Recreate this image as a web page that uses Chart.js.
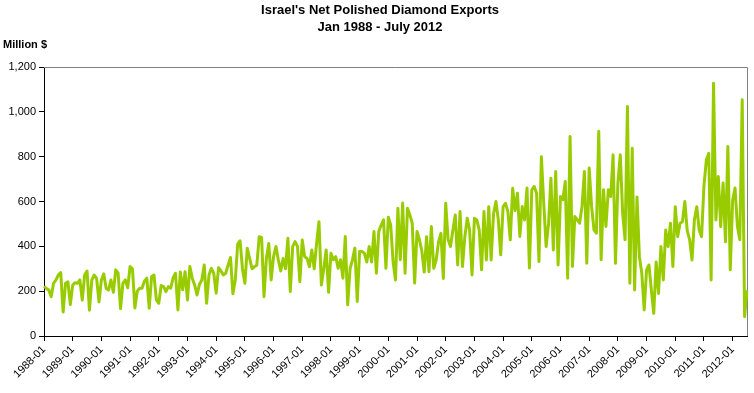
<!DOCTYPE html>
<html>
<head>
<meta charset="utf-8">
<script src="https://cdn.jsdelivr.net/npm/chart.js"></script>
<style>
  html, body { margin: 0; padding: 0; background: #fff; }
  #wrap { width: 754px; height: 393px; }
</style>
</head>
<body>
<div id="wrap"><canvas id="diamondChart" width="754" height="393"></canvas></div>
<script>
const titleLines = ["Israel's Net Polished Diamond Exports", "Jan 1988 - July 2012"];
const unitLabel = "Million $";
const years = [1988, 1989, 1990, 1991, 1992, 1993, 1994, 1995, 1996, 1997, 1998, 1999,
  2000, 2001, 2002, 2003, 2004, 2005, 2006, 2007, 2008, 2009, 2010, 2011, 2012];
const months = ["01", "02", "03", "04", "05", "06", "07", "08", "09", "10", "11", "12"];
const yTickValues = [0, 200, 400, 600, 800, 1000, 1200];

// million $, monthly, Jan 1988 - Jul 2012
const netExports = [
  222, 212, 205, 175, 235, 250, 272, 283, 107, 235, 242, 140, // 1988
  227, 238, 235, 250, 160, 272, 290, 115, 250, 272, 257, 152, // 1989
  250, 277, 212, 205, 250, 195, 295, 280, 122, 235, 250, 215, // 1990
  310, 300, 125, 200, 213, 213, 245, 258, 124, 265, 272, 161, // 1991
  146, 225, 220, 198, 220, 213, 260, 280, 116, 285, 206, 287, // 1992
  161, 310, 258, 228, 183, 230, 250, 317, 146, 272, 302, 280, // 1993
  191, 305, 290, 272, 280, 317, 350, 188, 250, 410, 425, 300, // 1994
  235, 391, 346, 300, 309, 316, 443, 440, 175, 346, 413, 250, // 1995
  354, 399, 339, 290, 346, 300, 436, 198, 399, 421, 400, 242, // 1996
  428, 354, 346, 309, 384, 300, 413, 510, 227, 300, 384, 195, // 1997
  369, 340, 354, 302, 340, 258, 444, 139, 300, 340, 392, 154, // 1998
  377, 377, 369, 330, 399, 330, 466, 280, 466, 495, 518, 302, // 1999
  530, 495, 330, 250, 570, 340, 593, 280, 570, 540, 503, 236, // 2000
  466, 430, 380, 285, 443, 287, 488, 302, 339, 420, 458, 257, // 2001
  592, 429, 399, 473, 540, 317, 555, 310, 443, 525, 473, 272, // 2002
  525, 518, 473, 295, 555, 339, 577, 339, 545, 600, 518, 362, // 2003
  577, 592, 555, 429, 659, 560, 637, 444, 578, 518, 660, 303, // 2004
  652, 667, 637, 332, 800, 593, 399, 500, 704, 384, 734, 317, // 2005
  622, 608, 689, 258, 890, 310, 533, 518, 503, 578, 734, 325, // 2006
  749, 578, 474, 459, 913, 340, 652, 489, 652, 622, 808, 324, // 2007
  680, 808, 548, 429, 1024, 235, 838, 205, 620, 354, 280, 116, // 2008
  295, 317, 205, 101, 330, 190, 399, 250, 473, 399, 503, 310, // 2009
  577, 443, 503, 510, 600, 470, 430, 339, 518, 577, 473, 443, // 2010
  670, 786, 815, 250, 1128, 518, 711, 488, 682, 420, 845, 295, // 2011
  607, 660, 488, 429, 1054, 86, 205 // 2012
];

const monthLabels = [];
years.forEach((y) => {
  months.forEach((m) => {
    if (monthLabels.length < netExports.length) monthLabels.push(y + "-" + m);
  });
});

const fontFamily = "'Liberation Sans', Arial, sans-serif";

// gray frame on top/right of the plot area plus titles
const chartDecor = {
  id: "chartDecor",
  beforeDatasetsDraw(chart) {
    const { ctx, chartArea: a } = chart;
    ctx.save();
    ctx.strokeStyle = "#808080";
    ctx.lineWidth = 1;
    ctx.beginPath();
    ctx.moveTo(a.left, Math.floor(a.top) + 0.5);
    ctx.lineTo(Math.floor(a.right) + 0.5, Math.floor(a.top) + 0.5);
    ctx.lineTo(Math.floor(a.right) + 0.5, a.bottom);
    ctx.stroke();
    ctx.restore();
  },
  afterDraw(chart) {
    const ctx = chart.ctx;
    ctx.save();
    ctx.fillStyle = "#000";
    ctx.textAlign = "center";
    ctx.textBaseline = "middle";
    ctx.font = "bold 13px " + fontFamily;
    ctx.fillText(titleLines[0], 380, 10);
    ctx.fillText(titleLines[1], 380, 27);
    ctx.textAlign = "left";
    ctx.font = "bold 11px " + fontFamily;
    ctx.fillText(unitLabel, 3, 45);
    ctx.restore();
  },
};

const ctx = document.getElementById("diamondChart").getContext("2d");
const diamondChart = new Chart(ctx, {
  type: "line",
  data: {
    labels: monthLabels,
    datasets: [
      {
        label: "Net polished diamond exports",
        data: netExports,
        borderColor: "#99cc00",
        backgroundColor: "#99cc00",
        borderWidth: 3,
        borderJoinStyle: "round",
        pointRadius: 0,
        tension: 0,
        fill: false,
      },
    ],
  },
  options: {
    responsive: false,
    animation: false,
    layout: { padding: { top: 67, right: 7, left: 0, bottom: 0 } },
    plugins: {
      legend: { display: false },
      tooltip: { enabled: false },
      title: { display: false },
    },
    scales: {
      x: {
        type: "category",
        offset: false,
        grid: { drawOnChartArea: false, tickLength: 5, color: "#000", lineWidth: 1 },
        border: { display: true, color: "#000" },
        ticks: {
          autoSkip: false,
          minRotation: 45,
          maxRotation: 45,
          padding: 2,
          color: "#000",
          font: { family: fontFamily, size: 11 },
          callback: function (value) {
            const label = this.getLabelForValue(value);
            return label.endsWith("-01") ? label : null;
          },
        },
        afterFit: (scale) => {
          scale.height = 57;
        },
      },
      y: {
        min: 0,
        max: 1200,
        afterBuildTicks: (scale) => {
          scale.ticks = yTickValues.map((v) => ({ value: v }));
        },
        grid: { drawOnChartArea: false, tickLength: 5, color: "#000", lineWidth: 1 },
        border: { display: true, color: "#000" },
        ticks: {
          padding: 3,
          color: "#000",
          font: { family: fontFamily, size: 11 },
          callback: (v) => v.toLocaleString("en-US"),
        },
        afterFit: (scale) => {
          scale.width = 44;
        },
      },
    },
  },
  plugins: [chartDecor],
});
</script>
</body>
</html>
